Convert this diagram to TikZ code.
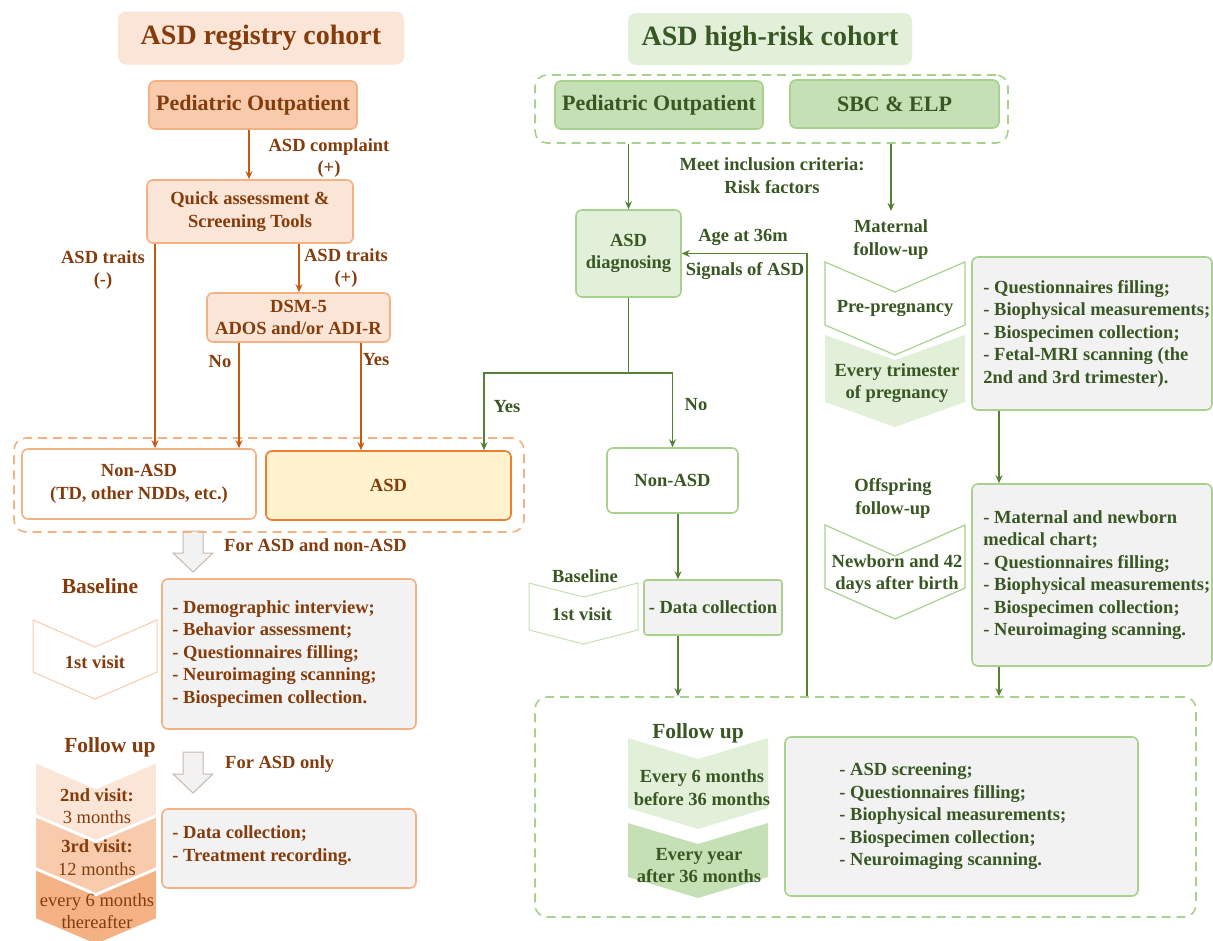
\documentclass[tikz,border=0pt]{standalone}
\usepackage{fontspec}
\setmainfont{Liberation Serif}
\usetikzlibrary{arrows.meta,calc,positioning}

\definecolor{obrown}{HTML}{843C0C}
\definecolor{oline}{HTML}{C55A11}
\definecolor{opale}{HTML}{FBE5D6}
\definecolor{omid}{HTML}{F8CBAD}
\definecolor{oedge}{HTML}{F4B183}
\definecolor{oasd}{HTML}{FFF2CC}
\definecolor{oorange}{HTML}{ED7D31}
\definecolor{gdark}{HTML}{385723}
\definecolor{gline}{HTML}{548235}
\definecolor{gpale}{HTML}{E2F0D9}
\definecolor{gmid}{HTML}{C5E0B4}
\definecolor{gedge}{HTML}{A9D18E}
\definecolor{boxgray}{HTML}{F2F2F2}
\definecolor{arrgray}{HTML}{C9B8AC}

\newcommand{\bodysize}{\fontsize{18.5}{22.5}\selectfont}
\newcommand{\headsize}{\fontsize{21.5}{25}\selectfont}
\newcommand{\titlesize}{\fontsize{28}{32}\selectfont}

% [style]{x left}{x right}{y top}{height}{depth}
\newcommand{\chevshape}[6][]{%
  \path[#1] (#2,#4) -- ({(#2+#3)/2},#4+#6) -- (#3,#4) -- (#3,#4+#5)
    -- ({(#2+#3)/2},#4+#5+#6) -- (#2,#4+#5) -- cycle;}
% {x centre}{y top}
\newcommand{\blockdown}[2]{%
  \path[blockarr] (#1-10,#2) -- (#1+10,#2) -- (#1+10,#2+22) -- (#1+20,#2+22)
    -- (#1,#2+41) -- (#1-20,#2+22) -- (#1-10,#2+22) -- cycle;}

\tikzset{
  lbox/.style={rounded corners=6pt, line width=1.6pt, draw=oedge, fill=opale, text=obrown, align=center, inner sep=0pt},
  gbox/.style={rounded corners=6pt, line width=1.6pt, draw=gedge, fill=gpale, text=gdark, align=center, inner sep=0pt},
  ltxt/.style={text=obrown, align=center, inner sep=0pt},
  gtxt/.style={text=gdark, align=center, inner sep=0pt},
  ldash/.style={draw=oedge, line width=1.6pt, dash pattern=on 9pt off 6pt, rounded corners=12pt, inner sep=0pt},
  gdash/.style={draw=gedge, line width=1.6pt, dash pattern=on 9pt off 6pt, rounded corners=12pt, inner sep=0pt},
  oarr/.style={draw=oline, line width=1.8pt, -{Stealth[length=8pt,width=7pt]}},
  garr/.style={draw=gline, line width=1.8pt, -{Stealth[length=8pt,width=7pt]}},
  blockarr/.style={fill=boxgray, draw=arrgray, line width=1pt},
}

\begin{document}
\begin{tikzpicture}[x=1pt, y=-1pt, font=\bfseries\bodysize]
\useasboundingbox (0,0) rectangle (1213,940);

% chevrons and block arrows
\chevshape[fill=white, draw=omid, line width=1pt]{33}{157}{620}{52}{27}
\foreach \yt/\hh/\cc in {762/53/opale, 816/52/omid, 869/50/oedge}
  \chevshape[fill=\cc, draw=white, line width=2pt]{35}{157}{\yt}{\hh}{26};
\blockdown{193}{531}
\blockdown{193}{752}
\chevshape[fill=white, draw=gmid, line width=1pt]{529}{638}{583}{47}{14}
\chevshape[fill=white, draw=gedge, line width=1.2pt]{825}{965}{262}{63}{30}
\chevshape[fill=gpale]{825}{965}{335}{67}{25}
\chevshape[fill=white, draw=gedge, line width=1.2pt]{825}{965}{525}{63}{31}
\chevshape[fill=gpale]{628}{768}{738}{70}{21}
\chevshape[fill=gmid]{628}{768}{823}{54}{21}

% registry cohort
\node[lbox, draw=none, rounded corners=8pt, minimum width=286pt, minimum height=53pt, font=\bfseries\titlesize] (ltitle) at (261,38) {ASD registry cohort};
\node[lbox, fill=omid, minimum width=208pt, minimum height=48pt, font=\bfseries\fontsize{22}{26}\selectfont] (lped) at (253,105) {Pediatric Outpatient};
\node[lbox, minimum width=206pt, minimum height=63pt] (lquick) at (250,211.5) {Quick assessment \&\\Screening Tools};
\node[lbox, minimum width=183pt, minimum height=49pt] (ldsm) at (298.5,317.5) {DSM-5\\ADOS and/or ADI-R};
\node[ldash, minimum width=510pt, minimum height=94pt] (lgroup) at (269,485) {};
\node[lbox, fill=white, minimum width=234pt, minimum height=70pt] (lnon) at (139,484) {Non-ASD\\(TD, other NDDs, etc.)};
\node[lbox, fill=oasd, draw=oorange, minimum width=245pt, minimum height=69pt] (lasd) at (388.5,485.5) {ASD};
\node[lbox, fill=boxgray, minimum width=254pt, minimum height=150pt] (lbase) at (289,654) {};
\node[ltxt, anchor=west, align=left] (lbasetxt) at ([xshift=11pt]lbase.west) {- Demographic interview;\\- Behavior assessment;\\- Questionnaires filling;\\- Neuroimaging scanning;\\- Biospecimen collection.};
\node[lbox, fill=boxgray, minimum width=254pt, minimum height=79pt] (lfol) at (289,848.5) {};
\node[ltxt, anchor=west, align=left] (lfoltxt) at ([xshift=11pt,yshift=3pt]lfol.west) {- Data collection;\\- Treatment recording.};

\draw[oarr] (lped.south -| 249,0) -- (lquick.north -| 249,0);
\draw[oarr] (lquick.south -| 155,0) -- (lnon.north -| 155,0);
\draw[oarr] (lquick.south -| 299,0) -- (ldsm.north -| 299,0);
\draw[oarr] (ldsm.south -| 239,0) -- (lnon.north -| 239,0);
\draw[oarr] (ldsm.south -| 361,0) -- (lasd.north -| 361,0);

\node[ltxt] (lcompl) at (329,158) {ASD complaint\\(+)};
\node[ltxt] (ltraitn) at (103,270) {ASD traits\\(-)};
\node[ltxt] (ltraitp) at (346,268) {ASD traits\\(+)};
\node[ltxt] (lno) at (220,362) {No};
\node[ltxt] (lyes) at (376,360) {Yes};
\node[ltxt, anchor=west] (lboth) at (224,545) {For ASD and non-ASD};
\node[ltxt, anchor=west] (lonly) at (225,764) {For ASD only};
\node[ltxt, font=\bfseries\headsize] (lbasehd) at (100,586) {Baseline};
\node[ltxt, font=\bfseries\headsize] (lfolhd) at (110,747) {Follow up};
\node[ltxt] (lv1) at (95,662) {1st visit};
\node[ltxt] (lv2) at (97,806) {2nd visit:\\\mdseries 3 months};
\node[ltxt] (lv3) at (97,857.5) {3rd visit:\\\mdseries 12 months};
\node[ltxt, font=\mdseries\bodysize] (lv4) at (97,911) {every 6 months\\thereafter};

% high-risk cohort
\node[gbox, draw=none, rounded corners=8pt, minimum width=284pt, minimum height=52pt, font=\bfseries\titlesize] (rtitle) at (770,39) {ASD high-risk cohort};
\node[gdash, minimum width=473pt, minimum height=68pt] (rgroup) at (771.5,109) {};
\node[gbox, fill=gmid, minimum width=208pt, minimum height=48pt, font=\bfseries\fontsize{22}{26}\selectfont] (rped) at (659,105) {Pediatric Outpatient};
\node[gbox, fill=gmid, minimum width=209pt, minimum height=48pt, font=\bfseries\fontsize{22}{26}\selectfont] (rsbc) at (894.5,104) {SBC \& ELP};
\node[gbox, minimum width=105pt, minimum height=87pt] (rdiag) at (628.5,253.5) {ASD\\diagnosing};
\node[gbox, fill=white, minimum width=131pt, minimum height=65pt] (rnon) at (672.5,480.5) {Non-ASD};
\node[gbox, fill=boxgray, rounded corners=3pt, minimum width=138pt, minimum height=55pt] (rdata) at (713,607.5) {- Data collection};
\node[gbox, fill=boxgray, minimum width=240pt, minimum height=153pt] (rmat) at (1092,333.5) {};
\node[gtxt, anchor=west, align=left] (rmattxt) at ([xshift=12pt]rmat.west) {- Questionnaires filling;\\- Biophysical measurements;\\- Biospecimen collection;\\- Fetal-MRI scanning (the\\2nd and 3rd trimester).};
\node[gbox, fill=boxgray, minimum width=240pt, minimum height=182pt] (rnew) at (1092,575) {};
\node[gtxt, anchor=west, align=left] (rnewtxt) at ([xshift=12pt]rnew.west) {- Maternal and newborn\\medical chart;\\- Questionnaires filling;\\- Biophysical measurements;\\- Biospecimen collection;\\- Neuroimaging scanning.};
\node[gdash, minimum width=661pt, minimum height=220pt] (rfgroup) at (865.5,807) {};
\node[gbox, fill=boxgray, minimum width=353pt, minimum height=159pt] (rfol) at (961.5,816.5) {};
\node[gtxt, anchor=west, align=left] (rfoltxt) at ([xshift=55pt]rfol.west) {- ASD screening;\\- Questionnaires filling;\\- Biophysical measurements;\\- Biospecimen collection;\\- Neuroimaging scanning.};

\coordinate (rmatin) at (891,211);
\coordinate (rsplit) at (628.5,373);
\draw[garr] (rgroup.south -| rdiag) -- (rdiag.north);
\draw[garr] (rgroup.south -| rmatin) -- (rmatin);
\draw[gline, line width=1.8pt] (rdiag.south) -- (rsplit);
\draw[garr] (rsplit) -| (rnon.north);
\draw[garr] (rsplit) -| (lasd.north -| 484,0);
\draw[garr] (rnon.south -| 678,0) -- (rdata.north -| 678,0);
\draw[garr] (rdata.south -| 678,0) -- (rfgroup.north -| 678,0);
\draw[garr] (rmat.south -| 999,0) -- (rnew.north -| 999,0);
\draw[garr] (rnew.south -| 999,0) -- (rfgroup.north -| 999,0);
\draw[garr] (rfgroup.north -| 807,0) |- (rdiag.east);

\node[gtxt] (rcrit) at (772,175.5) {Meet inclusion criteria:\\Risk factors};
\node[gtxt] (rmatlbl) at (891,239.5) {Maternal\\follow-up};
\node[gtxt] (rofflbl) at (893,498.5) {Offspring\\follow-up};
\node[gtxt] (rage) at (743,237) {Age at 36m};
\node[gtxt] (rsig) at (745,271) {Signals of ASD};
\node[gtxt] (ryes) at (507,407) {Yes};
\node[gtxt] (rno) at (696,405) {No};
\node[gtxt] (rbasehd) at (585,576) {Baseline};
\node[gtxt, font=\bfseries\headsize] (rfolhd) at (698,733) {Follow up};
\node[gtxt] (rv1) at (582,614) {1st visit};
\node[gtxt] (rpre) at (895,308) {Pre-pregnancy};
\node[gtxt] (rtri) at (897,383) {Every trimester\\of pregnancy};
\node[gtxt] (rnewb) at (897,574) {Newborn and 42\\days after birth};
\node[gtxt] (rf1) at (702,787.5) {Every 6 months\\before 36 months};
\node[gtxt] (rf2) at (699,865.5) {Every year\\after 36 months};
\end{tikzpicture}
\end{document}
